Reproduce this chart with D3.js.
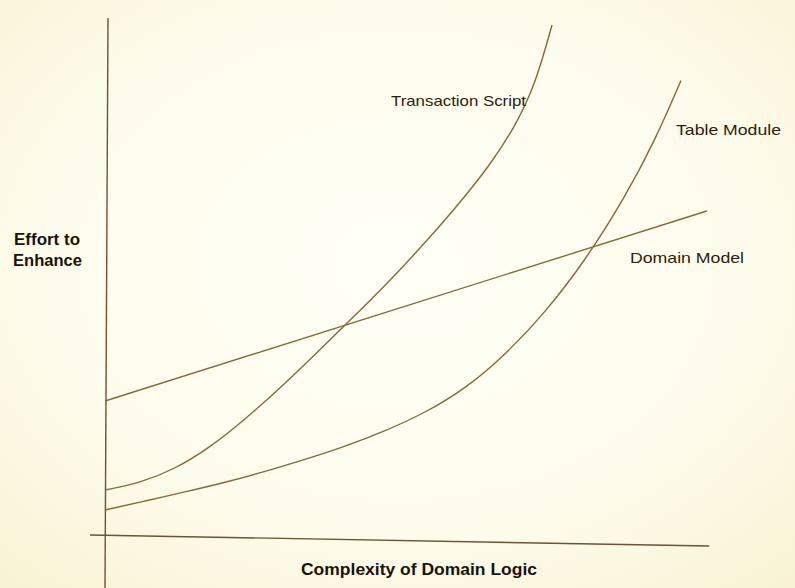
<!DOCTYPE html>
<html>
<head>
<meta charset="utf-8">
<script src="https://cdn.jsdelivr.net/npm/d3@7"></script>
<style>
  html, body { margin: 0; padding: 0; background: #fdfbea; }
  svg { display: block; }
</style>
</head>
<body>
<svg id="chart" width="795" height="588"></svg>
<script>
// ---- data (abstract units: complexity 0..10, effort 0..10) ----
const transactionScriptX = [0, 0.58, 1.17, 1.75, 2.33, 2.92, 3.50, 4.08, 4.67, 5.25, 5.83, 6.42, 6.83, 7.17, 7.45];
const transactionScriptY = [0.90, 1.04, 1.32, 1.75, 2.31, 2.94, 3.61, 4.29, 4.99, 5.73, 6.52, 7.40, 8.16, 9.00, 10.20];
const tableModuleX = [0, 0.67, 1.33, 2.00, 2.67, 3.33, 4.00, 4.67, 5.33, 6.00, 6.67, 7.33, 8.00, 8.67, 9.17, 9.60];
const tableModuleY = [0.50, 0.68, 0.86, 1.05, 1.27, 1.51, 1.77, 2.08, 2.44, 2.92, 3.60, 4.44, 5.48, 6.76, 7.90, 9.09];
const domainModelX = [0, 10.03];
const domainModelY = [2.68, 6.48];
const seriesNames = ["Transaction Script", "Table Module", "Domain Model"];
const xAxisTitle = "Complexity of Domain Logic";
const yAxisTitle = ["Effort to", "Enhance"];

// ---- layout ----
const svg = d3.select("#chart");
const x = d3.scaleLinear().domain([0, 10]).range([105, 705]);
const y = d3.scaleLinear().domain([0, 10]).range([535, 35]);

const lineColor = "#8a6836";
const textColor = "#2b1c0c";

const defs = svg.append("defs");
const grad = defs.append("radialGradient").attr("id", "paper")
  .attr("cx", "50%").attr("cy", "45%").attr("r", "75%");
grad.append("stop").attr("offset", "0%").attr("stop-color", "#fffff7");
grad.append("stop").attr("offset", "60%").attr("stop-color", "#fefcec");
grad.append("stop").attr("offset", "100%").attr("stop-color", "#f8f2d2");
svg.append("rect").attr("width", 795).attr("height", 588).attr("fill", "url(#paper)");

// axes (slightly skewed as in the photographed figure)
const axisG = svg.append("g").attr("stroke", "#6e5232").attr("stroke-width", 1.4).attr("fill", "none");
axisG.append("line")
  .attr("x1", x(0)).attr("y1", y(-1.06))
  .attr("x2", x(0.05)).attr("y2", y(10.34));
axisG.append("line")
  .attr("x1", x(-0.25)).attr("y1", y(0))
  .attr("x2", x(10.07)).attr("y2", y(-0.22));

const line = d3.line().x(d => x(d[0])).y(d => y(d[1])).curve(d3.curveBasis);
const series = [
  d3.zip(transactionScriptX, transactionScriptY),
  d3.zip(tableModuleX, tableModuleY),
  d3.zip(domainModelX, domainModelY)
];
svg.append("g").selectAll("path").data(series).join("path")
  .attr("d", line)
  .attr("fill", "none")
  .attr("stroke", lineColor)
  .attr("stroke-width", 1.4);

// series labels
const labelFont = "'Liberation Sans', Arial, Helvetica, sans-serif";
const labels = [
  { text: seriesNames[0], x: 391, y: 106, w: 135 },
  { text: seriesNames[1], x: 676, y: 135, w: 105 },
  { text: seriesNames[2], x: 630, y: 263, w: 114 }
];
svg.append("g").selectAll("text").data(labels).join("text")
  .attr("x", d => d.x).attr("y", d => d.y)
  .attr("font-family", labelFont)
  .attr("font-size", 15)
  .attr("fill", textColor)
  .attr("textLength", d => d.w)
  .attr("lengthAdjust", "spacingAndGlyphs")
  .text(d => d.text);

// axis titles
svg.append("text")
  .attr("x", 301).attr("y", 575)
  .attr("font-family", labelFont).attr("font-weight", "bold").attr("font-size", 16)
  .attr("fill", "#1a1208")
  .attr("textLength", 236).attr("lengthAdjust", "spacingAndGlyphs")
  .text(xAxisTitle);

const yt = svg.append("g")
  .attr("font-family", labelFont).attr("font-weight", "bold").attr("font-size", 16)
  .attr("fill", "#1a1208");
yt.append("text").attr("x", 14).attr("y", 245)
  .attr("textLength", 66).attr("lengthAdjust", "spacingAndGlyphs").text(yAxisTitle[0]);
yt.append("text").attr("x", 13).attr("y", 266)
  .attr("textLength", 69).attr("lengthAdjust", "spacingAndGlyphs").text(yAxisTitle[1]);
</script>
</body>
</html>
